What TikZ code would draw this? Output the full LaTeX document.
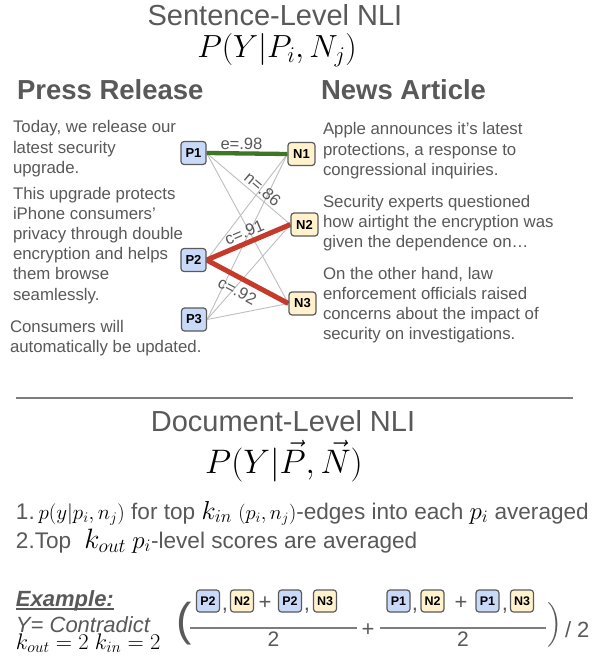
\RequirePackage{fix-cm}
\documentclass[tikz,border=0pt]{standalone}
\usepackage{amsmath}
\usepackage{fontspec}
\setmainfont{Liberation Sans}
\usetikzlibrary{backgrounds,calc}
\definecolor{tgray}{RGB}{89,89,89}
\definecolor{bordergray}{RGB}{90,90,90}
\definecolor{pblue}{RGB}{201,218,248}
\definecolor{nyellow}{RGB}{255,242,204}
\definecolor{lgray}{RGB}{190,190,190}
\definecolor{egreen}{RGB}{62,118,37}
\definecolor{cred}{RGB}{197,58,42}
\definecolor{rulegray}{RGB}{125,125,125}
\begin{document}
\begin{tikzpicture}[x=1pt,y=-1pt,
  txt/.style={text=tgray, inner sep=0pt, outer sep=0pt},
  para/.style={txt, align=left, anchor=base west, font=\fontsize{16.8}{20.2}\selectfont},
  pbox/.style={draw=bordergray, line width=1.2pt, rounded corners=3pt, fill=pblue,
    minimum width=25pt, minimum height=23pt, inner sep=0pt,
    font=\fontsize{13}{13}\selectfont\bfseries, text=black},
  nbox/.style={pbox, fill=nyellow, minimum width=27pt},
  ebox/.style={minimum width=23pt, minimum height=22pt, font=\fontsize{12.5}{12.5}\selectfont\bfseries},
  weak/.style={draw=lgray, line width=0.9pt},
  ent/.style={draw=egreen, line width=4.3pt},
  con/.style={draw=cred, line width=5pt},
  elabel/.style={txt, inner sep=1pt, sloped, font=\fontsize{16.5}{16.5}\selectfont},
  mathbig/.style={txt, text=black, anchor=base},
  title/.style={txt, anchor=base, font=\fontsize{29}{29}\selectfont},
  head/.style={txt, anchor=base west, font=\fontsize{27.5}{27.5}\selectfont\bfseries},
  item/.style={txt, anchor=base west, font=\fontsize{22.6}{22.6}\selectfont},
  fracline/.style={draw=rulegray, line width=1.2pt},
  sym/.style={txt, anchor=base, font=\fontsize{22}{22}\selectfont}
]
\useasboundingbox (0,0) rectangle (597,660);

% ---------- sentence level ----------
\node (t1) [title] at (275,26) {Sentence-Level NLI};
\node (f1) [mathbig, font=\fontsize{32}{32}\selectfont] at (277,58) {$P(Y|P_i,N_j)$};
\node (h1) [head] at (17,100) {Press Release};
\node (h2) [head] at (321,100) {News Article};

% multi-line nodes sit on the baseline of their last line
\node (pr1) [para] at (13,173.4) {Today, we release our\\latest security\\upgrade.};
\node (pr2) [para] at (13,300) {This upgrade protects\\iPhone consumers’\\privacy through double\\encryption and helps\\them browse\\seamlessly.};
\node (pr3) [para] at (10,352.2) {Consumers will\\automatically be updated.};

\node (na1) [para] at (323,175.4) {Apple announces it’s latest\\protections, a response to\\congressional inquiries.};
\node (na2) [para] at (323,247.4) {Security experts questioned\\how airtight the encryption was\\given the dependence on…};
\node (na3) [para] at (323,339.6) {On the other hand, law\\enforcement officials raised\\concerns about the impact of\\security on investigations.};

\node (P1) [pbox] at (193.5,153) {P1};
\node (P2) [pbox] at (193.5,260) {P2};
\node (P3) [pbox] at (194,319.5) {P3};
\node (N1) [nbox] at (301.5,154) {N1};
\node (N2) [nbox] at (304.5,224.5) {N2};
\node (N3) [nbox] at (302.5,303.5) {N3};

\begin{scope}[on background layer]
  \fill[white] (0,0) rectangle (597,660);
  \draw[weak] (P1.east) -- (N2.west);
  \draw[weak] (P1.east) -- (N3.west);
  \draw[weak] (P2.east) -- (N1.west);
  \draw[weak] (P3.east) -- (N1.west);
  \draw[weak] (P3.east) -- (N2.west);
  \draw[weak] (P3.east) -- (N3.west);
  \draw[ent] (P1.east) -- (N1.west);
  \draw[con] (P2.east) -- (N2.west);
  \draw[con] (P2.east) -- (N3.west);
\end{scope}

\path (P1.east) -- node[elabel, above=3pt, pos=.43] (le98) {e=.98} (N1.west);
\path (P1.east) -- node[elabel, above=2pt, pos=.6] (ln86) {n=.86} (N2.west);
\path (P2.east) -- node[elabel, above=4pt, pos=.5] (lc91) {c=.91} (N2.west);
\path (P2.east) -- node[elabel, below=6pt, pos=.45] (lc92) {c=.92} (N3.west);

% ---------- separator ----------
\coordinate (rl) at (16,398);
\coordinate (rr) at (573,398);
\draw[draw=rulegray, line width=1.4pt] (rl) -- (rr);

% ---------- document level ----------
\node (t2) [title] at (283,431) {Document-Level NLI};
\node (f2) [mathbig, font=\fontsize{34}{34}\selectfont] at (284,473) {$P(Y|\vec{P},\vec{N})$};

\node (it1) [item] at (16,519) {1.\,{\fontsize{21}{21}\selectfont\color{black}$p(y|p_i,n_j)$} for top {\fontsize{26}{26}\selectfont\color{black}$k_{in}$} {\fontsize{20.5}{20.5}\selectfont\color{black}$(p_i,n_j)$}-edges into each {\fontsize{25}{25}\selectfont\color{black}$p_i$} averaged};
\node (it2) [item] at (16,548) {2.Top\hspace{13pt}{\fontsize{28}{28}\selectfont\color{black}$k_{out}$} {\fontsize{25}{25}\selectfont\color{black}$p_i$}-level scores are averaged};

% ---------- example ----------
\node (ex) [txt, anchor=base west, font=\fontsize{22}{22}\selectfont\bfseries\itshape] at (16,606) {Example:};
\draw[draw=tgray, line width=1.4pt] ($(ex.base west)+(0,3)$) -- ($(ex.base east)+(0,3)$);
\node (yc) [txt, anchor=base west, font=\fontsize{22}{22}\selectfont\itshape] at (16,632) {Y= Contradict};
\node (kv) [txt, text=black, anchor=base west, font=\fontsize{22.5}{22.5}\selectfont] at (16,649) {$k_{out}=2\;k_{in}=2$};

\node (lp) [txt, anchor=center, font=\fontsize{46}{46}\selectfont] at (184,624) {(};

\node (a1) [pbox, ebox] at (208,601) {P2};
\node (a2) [nbox, ebox] at (242,601) {N2};
\node (a3) [pbox, ebox] at (290,601) {P2};
\node (a4) [nbox, ebox] at (325,601) {N3};
\node (ca1) [sym] at (225,610) {,};
\node (ca2) [sym] at (307,610) {,};
\node (pa) [sym] at (265,609) {+};

\coordinate (fa1) at (190,628);
\coordinate (fa2) at (357,628);
\draw[fracline] (fa1) -- (fa2);
\node (da) [sym, font=\fontsize{21}{21}\selectfont] at (273.5,646) {2};

\node (pm) [sym] at (368,636) {+};

\node (b1) [pbox, ebox] at (398.5,601) {P1};
\node (b2) [nbox, ebox] at (432.5,601) {N2};
\node (b3) [pbox, ebox] at (487.5,601) {P1};
\node (b4) [nbox, ebox] at (522,601) {N3};
\node (cb1) [sym] at (415,610) {,};
\node (cb2) [sym] at (505,610) {,};
\node (pb) [sym] at (461,609) {+};

\coordinate (fb1) at (380,628);
\coordinate (fb2) at (546,628);
\draw[fracline] (fb1) -- (fb2);
\node (db) [sym, font=\fontsize{21}{21}\selectfont] at (463,646) {2};

\node (rp) [txt, anchor=center, font=\fontsize{24}{24}\selectfont] at (555,625) {$\Big)$};
\node (dv) [txt, anchor=base west, font=\fontsize{22}{22}\selectfont] at (565,637) {/ 2};
\end{tikzpicture}
\end{document}
